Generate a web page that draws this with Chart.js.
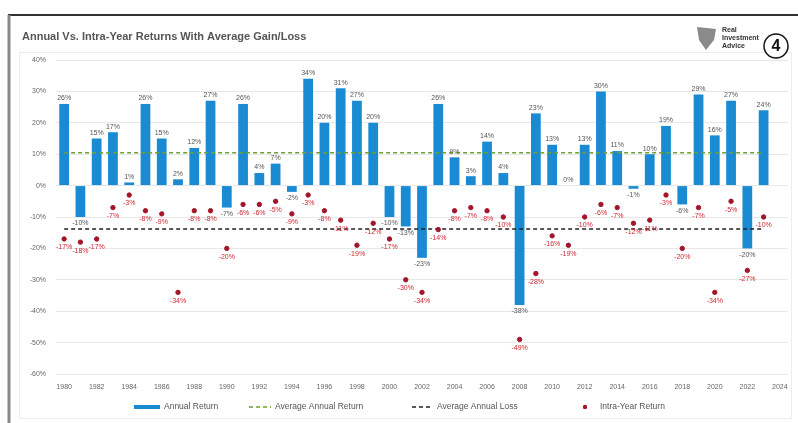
<!DOCTYPE html>
<html>
<head>
<meta charset="utf-8">
<script src="https://cdn.jsdelivr.net/npm/chart.js@4.4.1/dist/chart.umd.min.js"></script>
<style>
  html, body { margin: 0; padding: 0; background: #fff; }
  #wrap { position: relative; width: 798px; height: 423px; }
</style>
</head>
<body>
<div id="wrap"><canvas id="myChart" width="798" height="423"></canvas></div>
<script>
  // years on the axis (2024 has no data yet)
  const years = [
    1980, 1981, 1982, 1983, 1984, 1985, 1986, 1987, 1988, 1989,
    1990, 1991, 1992, 1993, 1994, 1995, 1996, 1997, 1998, 1999,
    2000, 2001, 2002, 2003, 2004, 2005, 2006, 2007, 2008, 2009,
    2010, 2011, 2012, 2013, 2014, 2015, 2016, 2017, 2018, 2019,
    2020, 2021, 2022, 2023, 2024
  ];

  const annualReturn = [
    26, -10, 15, 17, 1, 26, 15, 2, 12, 27,
    -7, 26, 4, 7, -2, 34, 20, 31, 27, 20,
    -10, -13, -23, 26, 9, 3, 14, 4, -38, 23,
    13, 0, 13, 30, 11, -1, 10, 19, -6, 29,
    16, 27, -20, 24
  ];

  const intraYearReturn = [
    -17, -18, -17, -7, -3, -8, -9, -34, -8, -8,
    -20, -6, -6, -5, -9, -3, -8, -11, -19, -12,
    -17, -30, -34, -14, -8, -7, -8, -10, -49, -28,
    -16, -19, -10, -6, -7, -12, -11, -3, -20, -7,
    -34, -5, -27, -10
  ];

  const avgAnnualReturn = 10.5;
  const avgAnnualLoss = -13.8;

  const yTicks = [40, 30, 20, 10, 0, -10, -20, -30, -40, -50, -60];

  const fontFamily = '"Liberation Sans", Arial, sans-serif';

  const gainLine = annualReturn.map(() => avgAnnualReturn);
  const lossLine = annualReturn.map(() => avgAnnualLoss);

  // frame, title, logo
  const framePlugin = {
    id: 'framePlugin',
    beforeDraw(chart) {
      const ctx = chart.ctx;
      ctx.save();
      ctx.fillStyle = '#fff';
      ctx.fillRect(0, 0, chart.width, chart.height);
      ctx.strokeStyle = '#ececec';
      ctx.lineWidth = 1;
      ctx.strokeRect(19.5, 52.5, 772, 366);
      ctx.strokeStyle = '#333';
      ctx.lineWidth = 2;
      ctx.beginPath();
      ctx.moveTo(8, 15);
      ctx.lineTo(798, 15);
      ctx.stroke();
      ctx.strokeStyle = '#888';
      ctx.lineWidth = 3;
      ctx.beginPath();
      ctx.moveTo(9, 15);
      ctx.lineTo(9, 423);
      ctx.stroke();

      ctx.fillStyle = '#555';
      ctx.font = 'bold 11px ' + fontFamily;
      ctx.textBaseline = 'middle';
      ctx.textAlign = 'left';
      ctx.fillText('Annual Vs. Intra-Year Returns With Average Gain/Loss', 22, 37);

      // logo
      ctx.fillStyle = '#8a8a8a';
      ctx.beginPath();
      ctx.moveTo(697, 27);
      ctx.lineTo(716, 29);
      ctx.lineTo(714, 40);
      ctx.lineTo(706, 50);
      ctx.lineTo(699, 40);
      ctx.closePath();
      ctx.fill();
      ctx.fillStyle = '#333';
      ctx.font = 'bold 7px ' + fontFamily;
      ctx.fillText('Real', 722, 30);
      ctx.fillText('Investment', 722, 38);
      ctx.fillText('Advice', 722, 46);
      ctx.fillStyle = '#fff';
      ctx.strokeStyle = '#111';
      ctx.lineWidth = 1.5;
      ctx.beginPath();
      ctx.arc(776, 46, 12, 0, Math.PI * 2);
      ctx.fill();
      ctx.stroke();
      ctx.fillStyle = '#111';
      ctx.font = 'bold 16px ' + fontFamily;
      ctx.textAlign = 'center';
      ctx.fillText('4', 776, 47);
      ctx.restore();
    },
    afterDraw(chart) {
      // legend
      const ctx = chart.ctx;
      const y = 407;
      ctx.save();
      ctx.font = '8.5px ' + fontFamily;
      ctx.textBaseline = 'middle';
      ctx.textAlign = 'left';
      ctx.fillStyle = '#1a8bd3';
      ctx.fillRect(134, y - 2, 26, 4);
      ctx.lineWidth = 1.5;
      ctx.setLineDash([4, 3]);
      ctx.strokeStyle = '#6f9e34';
      ctx.beginPath(); ctx.moveTo(249, y); ctx.lineTo(271, y); ctx.stroke();
      ctx.strokeStyle = '#222';
      ctx.beginPath(); ctx.moveTo(412, y); ctx.lineTo(433, y); ctx.stroke();
      ctx.setLineDash([]);
      ctx.fillStyle = '#a3162a';
      ctx.beginPath(); ctx.arc(585, y, 2.2, 0, Math.PI * 2); ctx.fill();
      ctx.fillStyle = '#555';
      ctx.fillText('Annual Return', 164, y);
      ctx.fillText('Average Annual Return', 275, y);
      ctx.fillText('Average Annual Loss', 437, y);
      ctx.fillText('Intra-Year Return', 600, y);
      ctx.restore();
    }
  };

  // value labels on bars and points
  const valueLabels = {
    id: 'valueLabels',
    afterDatasetsDraw(chart) {
      const ctx = chart.ctx;
      ctx.save();
      ctx.font = '7px ' + fontFamily;
      ctx.textAlign = 'center';
      chart.getDatasetMeta(0).data.forEach((bar, i) => {
        const v = annualReturn[i];
        if (v == null) return;
        ctx.fillStyle = '#555';
        if (v >= 0) {
          ctx.textBaseline = 'bottom';
          ctx.fillText(v + '%', bar.x, bar.y - 2);
        } else {
          ctx.textBaseline = 'top';
          ctx.fillText(v + '%', bar.x, bar.y + 3);
        }
      });
      ctx.fillStyle = '#d0262f';
      ctx.textBaseline = 'top';
      chart.getDatasetMeta(3).data.forEach((pt, i) => {
        const v = intraYearReturn[i];
        if (v == null) return;
        ctx.fillText(v + '%', pt.x, pt.y + 5);
      });
      ctx.restore();
    }
  };

  const data = {
    labels: years,
    datasets: [
      {
        type: 'bar',
        label: 'Annual Return',
        data: annualReturn,
        backgroundColor: '#1a8bd3',
        barPercentage: 0.6,
        categoryPercentage: 1,
        order: 3
      },
      {
        type: 'line',
        label: 'Average Annual Return',
        data: gainLine,
        borderColor: '#6f9e34',
        borderWidth: 1.5,
        borderDash: [4, 3],
        pointRadius: 0,
        order: 1
      },
      {
        type: 'line',
        label: 'Average Annual Loss',
        data: lossLine,
        borderColor: '#222',
        borderWidth: 1.5,
        borderDash: [4, 3],
        pointRadius: 0,
        order: 1
      },
      {
        type: 'line',
        label: 'Intra-Year Return',
        data: intraYearReturn,
        showLine: false,
        backgroundColor: '#a3162a',
        borderColor: '#a3162a',
        pointRadius: 2.2,
        order: 0
      }
    ]
  };

  const config = {
    type: 'bar',
    data: data,
    options: {
      responsive: false,
      animation: false,
      layout: { padding: { left: 16, right: 10, top: 60, bottom: 33 } },
      plugins: {
        legend: { display: false },
        title: { display: false },
        tooltip: { enabled: false }
      },
      scales: {
        x: {
          grid: { display: false, drawTicks: false },
          border: { display: false },
          ticks: {
            autoSkip: false,
            maxRotation: 0,
            padding: 9,
            color: '#666',
            font: { size: 7, family: fontFamily },
            callback: (v, i) => (i % 2 === 0 ? String(years[i]) : '')
          },
          afterFit: (s) => { s.height = 16; }
        },
        y: {
          min: yTicks[yTicks.length - 1],
          max: yTicks[0],
          ticks: {
            stepSize: 10,
            padding: 10,
            color: '#666',
            font: { size: 7, family: fontFamily },
            callback: (v) => v + '%'
          },
          grid: { color: '#e8e8e8', drawTicks: false },
          border: { display: false },
          afterFit: (s) => { s.width = 40; }
        }
      }
    },
    plugins: [framePlugin, valueLabels]
  };

  const myChart = new Chart(document.getElementById('myChart'), config);
</script>
</body>
</html>
